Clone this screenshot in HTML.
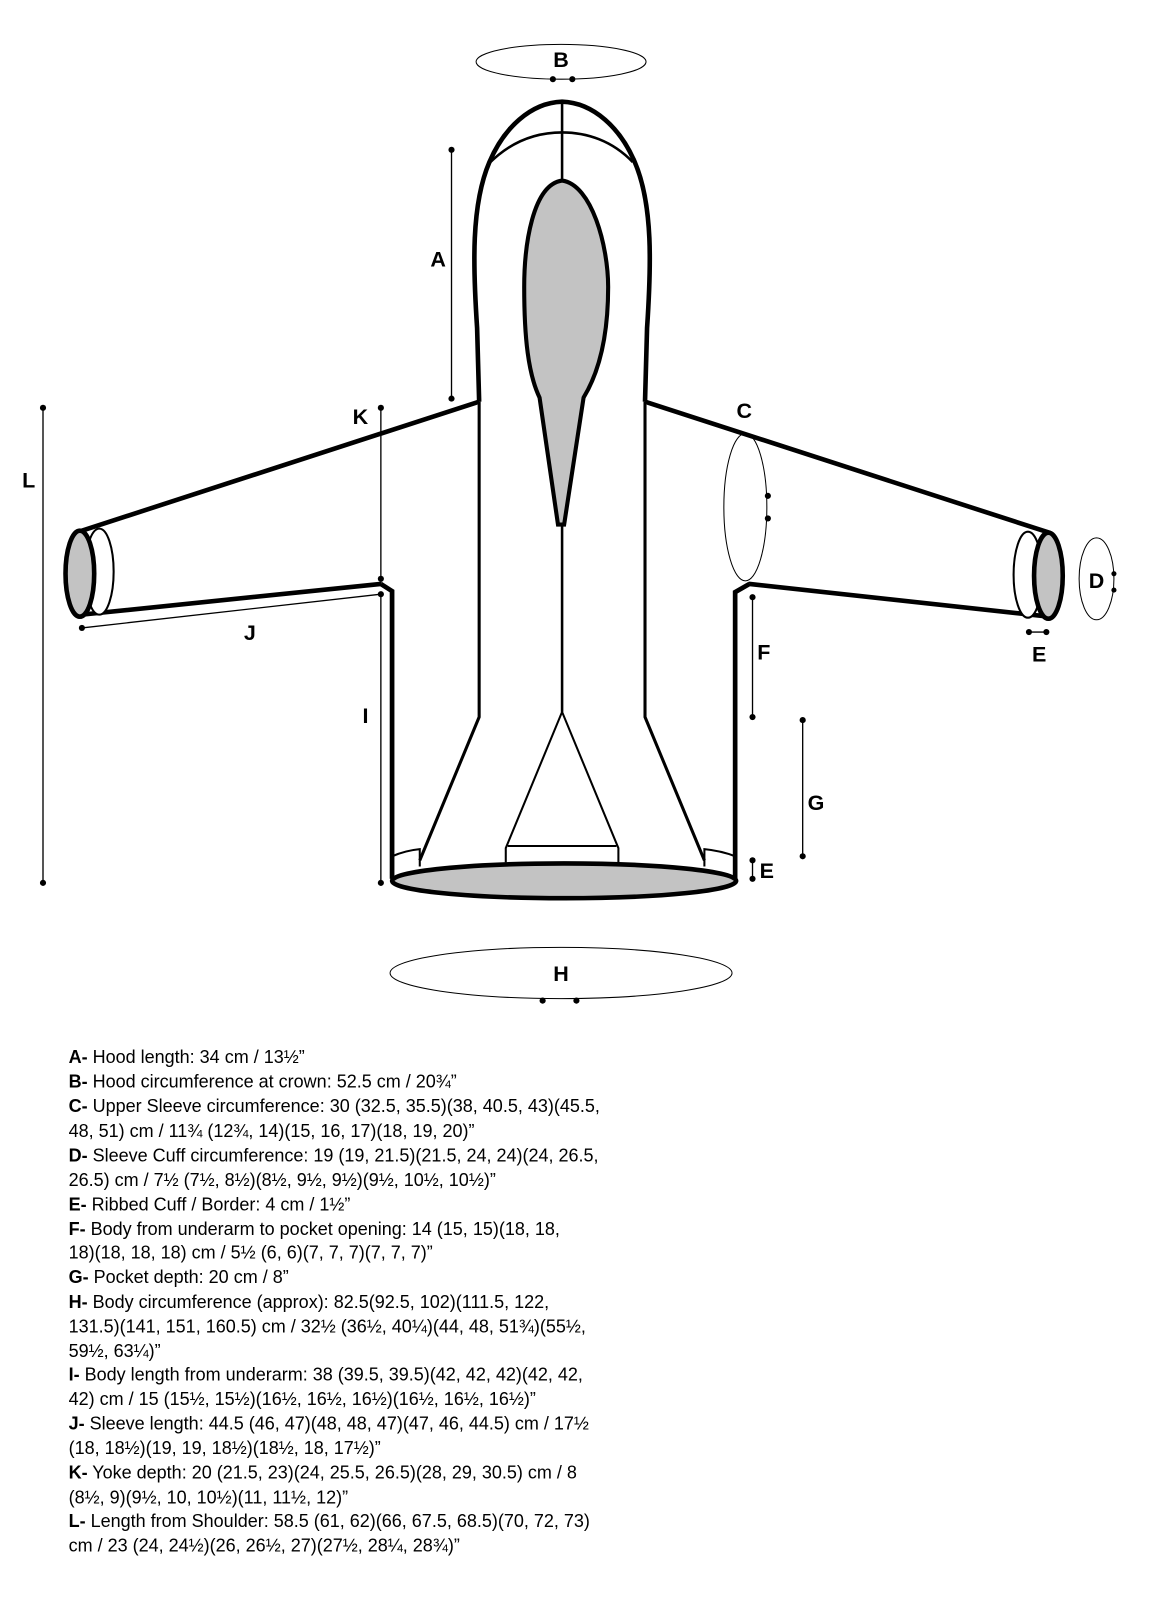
<!DOCTYPE html>
<html><head><meta charset="utf-8"><style>
html,body{margin:0;padding:0;background:#fff;}
svg{display:block;}
.lb{font-family:"Liberation Sans",sans-serif;font-weight:bold;font-size:21px;fill:#000;}
.tx{font-family:"Liberation Sans",sans-serif;font-size:17.6px;fill:#000;}
.tx tspan.b{font-weight:bold;}
</style></head><body>
<svg width="1160" height="1604" viewBox="0 0 1133 1566" xmlns="http://www.w3.org/2000/svg">
<g fill="none" stroke="#000">
<ellipse cx="548" cy="60" rx="83" ry="17" stroke-width="1"/>
<path d="M468,392 L80,518 L80,600 L372,570 L383,577 L383,858" fill="#fff" stroke-width="4.5" stroke-linejoin="round"/>
<path d="M630,392 L1025,520 L1025,602 L732,570 L718,578 L718,858" fill="#fff" stroke-width="4.5" stroke-linejoin="round"/>
<path d="M383,577 L383,858 L718,858 L718,578 L732,570 L630,392 L468,392 L372,570Z" fill="#fff" stroke="none"/>
<path d="M372,570 L383,577 L383,858 M718,858 L718,578 L732,570" stroke-width="4.5"/>
<ellipse cx="97" cy="558" rx="14" ry="42" fill="#fff" stroke-width="2"/>
<ellipse cx="78" cy="560" rx="14" ry="42" fill="#c3c3c3" stroke-width="4.5"/>
<ellipse cx="1004" cy="561" rx="14" ry="42" fill="#fff" stroke-width="2"/>
<ellipse cx="1024" cy="562" rx="14" ry="42" fill="#c3c3c3" stroke-width="4.5"/>
<path d="M468,392 L466,320 C462,260 460,200 478,158 C492,125 518,100 549,99 C580,100 606,125 620,158 C638,200 636,260 632,320 L630,392" fill="#fff" stroke-width="4.5"/>
<path d="M478,159 C500,137 525,129 549,129 C573,129 598,137 618,158" stroke-width="2.5"/>
<line x1="549" y1="99" x2="549" y2="176" stroke-width="2.5"/>
<path d="M549,176 C520,180 512,240 512,280 C512,330 516,365 527,388 L545,512 L551,512 L570,388 C584,365 594,330 594,280 C594,240 578,180 549,176Z" fill="#c3c3c3" stroke-width="4"/>
<line x1="549" y1="512" x2="549" y2="695" stroke-width="2.5"/>
<path d="M468,392 L468,700 L410,840" stroke-width="3"/>
<path d="M630,392 L630,700 L688,840" stroke-width="3"/>
<path d="M494,842 L494,828 L549,695 L604,828 L604,842 M496,826 L602,826" stroke-width="2"/>
<path d="M383,836 C392,832 400,830 410,829 L410,846 M718,836 C708,832 698,830 688,829 L688,846" stroke-width="2"/>
<ellipse cx="551" cy="860" rx="168" ry="17" fill="#c3c3c3" stroke-width="4.5"/>
<ellipse cx="728" cy="495" rx="21" ry="72" stroke-width="1"/>
<ellipse cx="1071" cy="565" rx="17" ry="40" stroke-width="1"/>
<ellipse cx="548" cy="950" rx="167" ry="25" stroke-width="1"/>
<g stroke-width="1.3">
<line x1="441" y1="146" x2="441" y2="389"/>
<line x1="42" y1="398" x2="42" y2="862"/>
<line x1="372" y1="398" x2="372" y2="565"/>
<line x1="372" y1="580" x2="372" y2="862"/>
<line x1="80" y1="613" x2="372" y2="580"/>
<line x1="735" y1="583" x2="735" y2="700"/>
<line x1="784" y1="703" x2="784" y2="836"/>
<line x1="735" y1="840" x2="735" y2="858"/>
<line x1="1005" y1="617" x2="1022" y2="617"/>
</g>
</g>
<g fill="#000">
<circle cx="540" cy="77" r="3"/><circle cx="559" cy="77" r="3"/>
<circle cx="441" cy="146" r="3"/><circle cx="441" cy="389" r="3"/>
<circle cx="42" cy="398" r="3"/><circle cx="42" cy="862" r="3"/>
<circle cx="372" cy="398" r="3"/><circle cx="372" cy="565" r="3"/>
<circle cx="372" cy="580" r="3"/><circle cx="372" cy="862" r="3"/>
<circle cx="80" cy="613" r="3"/>
<circle cx="735" cy="583" r="3"/><circle cx="735" cy="700" r="3"/>
<circle cx="784" cy="703" r="3"/><circle cx="784" cy="836" r="3"/>
<circle cx="735" cy="840" r="3"/><circle cx="735" cy="858" r="3"/>
<circle cx="1005" cy="617" r="3"/><circle cx="1022" cy="617" r="3"/>
<circle cx="750" cy="484" r="3"/><circle cx="750" cy="506" r="3"/>
<circle cx="1088" cy="560" r="2.5"/><circle cx="1088" cy="576" r="2.5"/>
<circle cx="530" cy="977" r="3"/><circle cx="563" cy="977" r="3"/>
</g>
<g class="lb" text-anchor="middle">
<text x="548" y="65">B</text>
<text x="428" y="260">A</text>
<text x="727" y="408">C</text>
<text x="352" y="414">K</text>
<text x="28" y="476">L</text>
<text x="1071" y="574">D</text>
<text x="244" y="625">J</text>
<text x="1015" y="646">E</text>
<text x="746" y="644">F</text>
<text x="357" y="706">I</text>
<text x="797" y="791">G</text>
<text x="749" y="857">E</text>
<text x="548" y="958">H</text>
</g>
<g class="tx">
<text x="67" y="1038"><tspan class="b">A-</tspan> Hood length: 34 cm / 13½”</text>
<text x="67" y="1062"><tspan class="b">B-</tspan> Hood circumference at crown: 52.5 cm / 20¾”</text>
<text x="67" y="1086"><tspan class="b">C-</tspan> Upper Sleeve circumference: 30 (32.5, 35.5)(38, 40.5, 43)(45.5,</text>
<text x="67" y="1110">48, 51) cm / 11¾ (12¾, 14)(15, 16, 17)(18, 19, 20)”</text>
<text x="67" y="1134"><tspan class="b">D-</tspan> Sleeve Cuff circumference: 19 (19, 21.5)(21.5, 24, 24)(24, 26.5,</text>
<text x="67" y="1158">26.5) cm / 7½ (7½, 8½)(8½, 9½, 9½)(9½, 10½, 10½)”</text>
<text x="67" y="1182"><tspan class="b">E-</tspan> Ribbed Cuff / Border: 4 cm / 1½”</text>
<text x="67" y="1206"><tspan class="b">F-</tspan> Body from underarm to pocket opening: 14 (15, 15)(18, 18,</text>
<text x="67" y="1229">18)(18, 18, 18) cm / 5½ (6, 6)(7, 7, 7)(7, 7, 7)”</text>
<text x="67" y="1253"><tspan class="b">G-</tspan> Pocket depth: 20 cm / 8”</text>
<text x="67" y="1277"><tspan class="b">H-</tspan> Body circumference (approx): 82.5(92.5, 102)(111.5, 122,</text>
<text x="67" y="1301">131.5)(141, 151, 160.5) cm / 32½ (36½, 40¼)(44, 48, 51¾)(55½,</text>
<text x="67" y="1325">59½, 63¼)”</text>
<text x="67" y="1348"><tspan class="b">I-</tspan> Body length from underarm: 38 (39.5, 39.5)(42, 42, 42)(42, 42,</text>
<text x="67" y="1372">42) cm / 15 (15½, 15½)(16½, 16½, 16½)(16½, 16½, 16½)”</text>
<text x="67" y="1396"><tspan class="b">J-</tspan> Sleeve length: 44.5 (46, 47)(48, 48, 47)(47, 46, 44.5) cm / 17½</text>
<text x="67" y="1420">(18, 18½)(19, 19, 18½)(18½, 18, 17½)”</text>
<text x="67" y="1444"><tspan class="b">K-</tspan> Yoke depth: 20 (21.5, 23)(24, 25.5, 26.5)(28, 29, 30.5) cm / 8</text>
<text x="67" y="1468">(8½, 9)(9½, 10, 10½)(11, 11½, 12)”</text>
<text x="67" y="1491"><tspan class="b">L-</tspan> Length from Shoulder: 58.5 (61, 62)(66, 67.5, 68.5)(70, 72, 73)</text>
<text x="67" y="1515">cm / 23 (24, 24½)(26, 26½, 27)(27½, 28¼, 28¾)”</text>
</g>
</svg>
</body></html>
